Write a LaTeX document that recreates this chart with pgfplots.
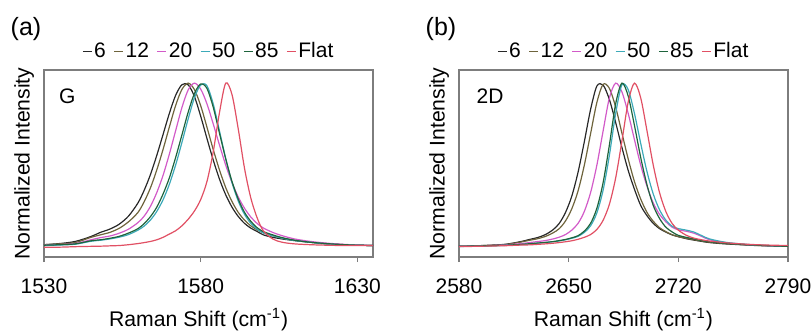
\documentclass[border=0pt]{standalone}
\usepackage{fontspec}
\setmainfont{Liberation Sans}
\usepackage{pgfplots}
\usepackage{pgfplotstable}
\pgfplotsset{compat=1.18}
\definecolor{c6}{RGB}{40,40,40}
\definecolor{c12}{RGB}{110,100,60}
\definecolor{c20}{RGB}{210,90,200}
\definecolor{c50}{RGB}{60,170,185}
\definecolor{c85}{RGB}{30,100,60}
\definecolor{cf}{RGB}{225,80,100}
\definecolor{axgray}{RGB}{125,125,125}

\pgfplotstableread{
x a6 a12 a20 a50 a85 af
1530 .015 .015 .012 .010 .012 .000
1535 .022 .020 .016 .013 .015 .000
1540 .035 .028 .022 .018 .020 .003
1545 .065 .060 .045 .036 .039 .005
1548 .090 .075 .058 .042 .045 .006
1551 .110 .090 .068 .050 .054 .008
1554 .140 .115 .085 .061 .066 .010
1557 .190 .155 .110 .077 .086 .015
1560 .270 .212 .150 .104 .113 .022
1562 .348 .278 .190 .129 .144 .028
1564 .444 .363 .250 .166 .187 .035
1566 .560 .471 .333 .218 .244 .045
1568 .687 .596 .438 .289 .324 .060
1570 .815 .732 .567 .383 .422 .080
1572 .925 .863 .709 .500 .546 .100
1574 .990 .961 .850 .637 .683 .130
1576 .990 1.000 .958 .781 .822 .170
1578 .919 .961 1.000 .910 .936 .220
1580 .799 .863 .964 .989 .995 .290
1582 .663 .732 .874 .984 .968 .400
1584 .532 .596 .752 .874 .854 .580
1586 .415 .471 .623 .709 .695 .820
1588 .319 .363 .500 .541 .538 1.000
1590 .244 .278 .394 .394 .400 .930
1592 .187 .212 .306 .281 .293 .720
1594 .145 .165 .237 .200 .212 .480
1596 .116 .130 .184 .145 .158 .300
1598 .096 .106 .145 .110 .119 .180
1600 .075 .088 .117 .087 .095 .100
1603 .060 .070 .090 .070 .075 .050
1606 .050 .055 .070 .055 .058 .030
1610 .040 .042 .050 .040 .042 .020
1615 .030 .030 .035 .030 .030 .015
1620 .020 .022 .025 .020 .022 .012
1625 .015 .016 .018 .015 .016 .010
1630 .012 .012 .013 .012 .012 .010
1635 .010 .010 .010 .010 .010 .010
}\tabA

\pgfplotstableread{
x b6 b12 b20 b50 b85 bf
2580 .005 .005 .005 .004 .005 .003
2590 .008 .008 .007 .006 .007 .005
2600 .012 .011 .010 .008 .009 .007
2610 .018 .016 .014 .011 .012 .009
2620 .035 .032 .022 .016 .017 .013
2625 .047 .042 .028 .020 .021 .014
2630 .058 .051 .034 .024 .025 .017
2635 .076 .065 .040 .028 .029 .020
2640 .106 .087 .050 .033 .034 .024
2644 .145 .113 .061 .038 .040 .028
2648 .212 .160 .077 .045 .047 .033
2652 .311 .234 .104 .054 .057 .039
2656 .457 .343 .145 .066 .070 .048
2660 .643 .500 .218 .090 .098 .060
2664 .840 .692 .333 .130 .145 .077
2668 .982 .882 .500 .209 .237 .108
2672 .988 .993 .709 .348 .394 .164
2676 .900 .968 .910 .560 .623 .262
2680 .760 .854 1.000 .815 .874 .422
2684 .608 .695 .946 .990 1.000 .647
2688 .468 .538 .815 .960 .921 .885
2692 .353 .400 .655 .815 .742 1.000
2696 .254 .293 .500 .632 .546 .910
2700 .192 .212 .371 .460 .380 .709
2704 .145 .158 .269 .324 .254 .500
2708 .113 .119 .200 .228 .175 .333
2712 .092 .095 .155 .165 .122 .218
2716 .075 .076 .122 .128 .093 .145
2720 .064 .064 .106 .113 .072 .104
2725 .052 .054 .097 .104 .060 .073
2730 .043 .045 .085 .092 .050 .055
2735 .035 .037 .065 .070 .040 .045
2740 .028 .030 .045 .050 .033 .037
2750 .020 .022 .028 .030 .024 .027
2760 .015 .016 .018 .020 .017 .020
2770 .010 .011 .012 .013 .012 .015
2780 .008 .008 .008 .009 .008 .012
2790 .005 .005 .006 .006 .005 .010
}\tabB

\pgfplotsset{
  ramanstyle/.style={
    scale only axis, width=164.5pt, height=93.5pt,
    ymin=-0.06, ymax=1.08, ytick=\empty,
    clip=false,
    axis line style={draw=axgray, line width=0.9pt},
    tick align=outside, xtick pos=left,
    major tick length=2.5pt,
    tick style={draw=axgray, line width=0.6pt},
    /pgf/number format/assume math mode=true,
    xticklabel style={/pgf/number format/1000 sep={}, font=\fontsize{10.5}{12}\selectfont, yshift=-4.8pt},
    ylabel={Normalized Intensity},
    ylabel style={at={(axis description cs:-0.06,0.5)}, anchor=center, font=\fontsize{10.6}{12}\selectfont},
    xlabel={Raman Shift (cm\textsuperscript{-1})},
    xlabel style={anchor=center, yshift=-31.5pt, font=\fontsize{10.6}{12}\selectfont},
    legend columns=6,
    legend style={draw=none, fill=none, at={(0.5,1)}, anchor=south, yshift=0.5pt,
      font=\fontsize{10.5}{12}\selectfont, inner xsep=0pt,
      nodes={inner xsep=0.8pt},
      /tikz/every even column/.append style={column sep=3pt}},
    legend image code/.code={\draw[##1, line width=0.8pt] (0pt,0pt) -- (4.5pt,0pt);},
    every axis plot/.append style={smooth, line width=0.6pt, no markers},
  }
}

\begin{document}
\begin{tikzpicture}
\path[use as bounding box] (-22pt,-38.5pt) rectangle (383.5pt,128.5pt);
\begin{axis}[ramanstyle, at={(0pt,0pt)},
  xmin=1530, xmax=1635, xtick={1530,1580,1630},
  xlabel style={at={(axis description cs:0.47,0)}}]
\addplot[c6] table[x=x, y=a6] {\tabA};
\addplot[c12] table[x=x, y=a12] {\tabA};
\addplot[c20] table[x=x, y=a20] {\tabA};
\addplot[c50] table[x=x, y=a50] {\tabA};
\addplot[c85] table[x=x, y=a85] {\tabA};
\addplot[cf] table[x=x, y=af] {\tabA};
\legend{6,12,20,50,85,Flat}
\node[font=\fontsize{10.5}{12}\selectfont] at (rel axis cs:0.071,0.861) {G};
\node[font=\fontsize{12.5}{14}\selectfont, xshift=-9pt, yshift=20.5pt] at (rel axis cs:0,1) {(a)};
\end{axis}
\begin{axis}[ramanstyle, at={(207.5pt,0pt)},
  xmin=2580, xmax=2790, xtick={2580,2650,2720,2790},
  xlabel style={at={(axis description cs:0.5,0)}}]
\addplot[c6] table[x=x, y=b6] {\tabB};
\addplot[c12] table[x=x, y=b12] {\tabB};
\addplot[c20] table[x=x, y=b20] {\tabB};
\addplot[c50] table[x=x, y=b50] {\tabB};
\addplot[c85] table[x=x, y=b85] {\tabB};
\addplot[cf] table[x=x, y=bf] {\tabB};
\legend{6,12,20,50,85,Flat}
\node[font=\fontsize{10.5}{12}\selectfont] at (rel axis cs:0.0945,0.861) {2D};
\node[font=\fontsize{12.5}{14}\selectfont, xshift=-9pt, yshift=20.5pt] at (rel axis cs:0,1) {(b)};
\end{axis}
\end{tikzpicture}
\end{document}
